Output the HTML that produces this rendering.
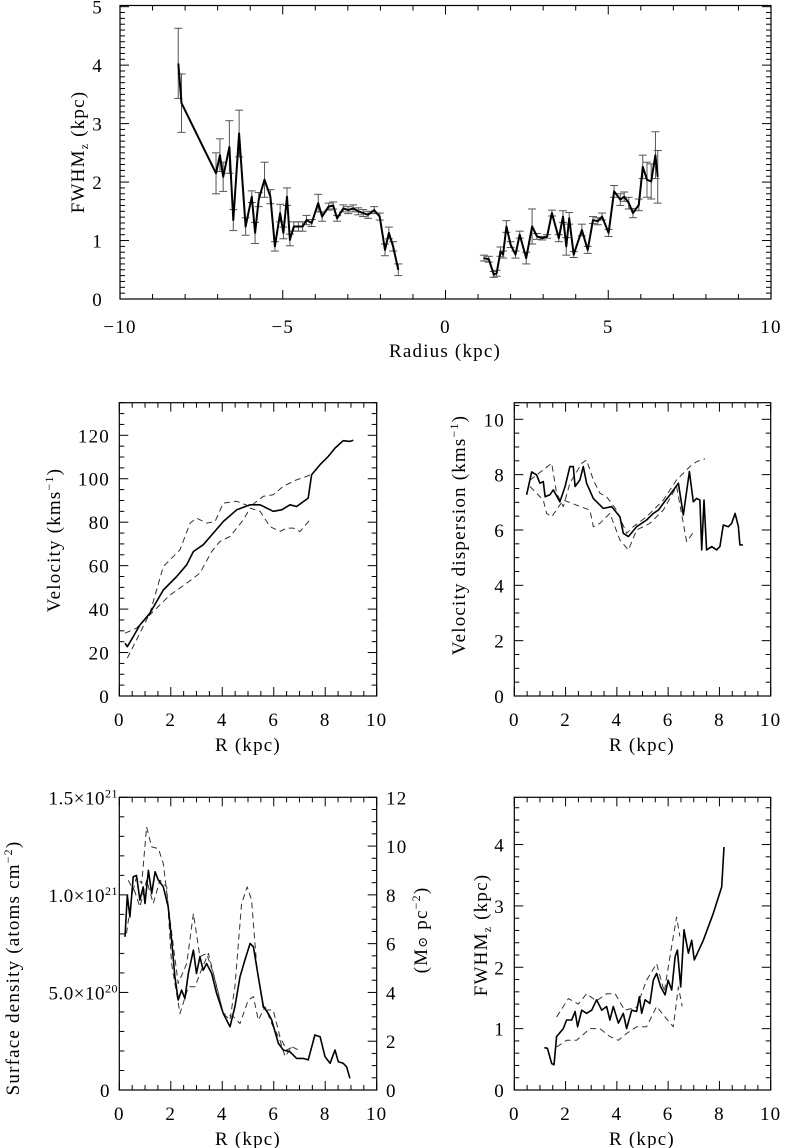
<!DOCTYPE html>
<html><head><meta charset="utf-8">
<style>
html,body{margin:0;padding:0;background:#fff;}
svg{display:block;font-family:"Liberation Serif","DejaVu Serif",serif;}
</style></head>
<body>
<svg id="fig" width="785" height="1148" viewBox="0 0 785 1148" xmlns="http://www.w3.org/2000/svg"></svg>
<script>
// ---- Panel A: FWHM vs Radius (with error bars)
const fwhmR = [-8.21,-8.11,-7.05,-6.93,-6.83,-6.64,-6.52,-6.34,-6.14,-5.95,-5.85,-5.74,-5.56,-5.38,-5.24,-5.08,-4.98,-4.87,-4.78,-4.66,-4.52,-4.39,-4.27,-4.11,-3.91,-3.79,-3.59,-3.45,-3.33,-3.14,-2.99,-2.84,-2.68,-2.53,-2.38,-2.19,-2.02,-1.86,-1.74,-1.61,-1.45];
const fwhmV = [4.03,3.35,2.15,2.46,2.09,2.6,1.35,2.83,1.24,1.75,1.13,1.7,2.04,1.75,0.9,1.47,1.13,1.75,1.01,1.24,1.24,1.24,1.35,1.3,1.64,1.41,1.58,1.6,1.38,1.55,1.52,1.55,1.5,1.47,1.44,1.52,1.41,0.84,1.13,0.9,0.5];
const fwhmE = [0.6,0.5,0.35,0.28,0.25,0.45,0.18,0.4,0.15,0.1,0.18,0.12,0.3,0.12,0.08,0.15,0.1,0.15,0.1,0.08,0.08,0.08,0.08,0.06,0.15,0.08,0.06,0.06,0.05,0.06,0.06,0.06,0.06,0.06,0.06,0.06,0.06,0.1,0.1,0.08,0.1];
const fwhmR2 = [1.18,1.33,1.48,1.57,1.69,1.77,1.87,2.0,2.15,2.28,2.48,2.66,2.81,2.97,3.12,3.27,3.48,3.61,3.71,3.8,3.94,4.19,4.37,4.53,4.68,4.81,5.01,5.18,5.37,5.49,5.63,5.76,5.94,6.06,6.19,6.32,6.45,6.52];
const fwhmV2 = [0.70,0.68,0.42,0.44,0.81,0.76,1.24,0.93,0.76,1.1,0.70,1.24,1.07,1.04,1.07,1.47,1.04,1.41,0.9,1.38,0.76,1.18,0.84,1.35,1.33,1.41,1.13,1.84,1.7,1.75,1.64,1.47,1.61,2.26,2.04,2.01,2.46,2.09];
const fwhmE2 = [0.05,0.05,0.05,0.05,0.08,0.06,0.1,0.05,0.06,0.06,0.1,0.3,0.05,0.03,0.03,0.05,0.06,0.1,0.15,0.1,0.05,0.1,0.06,0.06,0.06,0.06,0.06,0.1,0.1,0.08,0.1,0.08,0.1,0.2,0.3,0.3,0.4,0.45];

// ---- Panel B: rotation velocity
const velR = [0.22,0.31,0.54,0.8,1.19,1.71,2.23,2.62,2.88,3.26,3.65,4.04,4.56,5.08,5.47,5.98,6.31,6.63,6.89,7.34,7.47,7.8,8.12,8.38,8.7,8.96,9.09];
const velV = [24.3,22.7,27.3,32.7,38.1,48.8,55,60.4,66.5,69.6,75,80.3,85.7,88,88,85,85.7,88,87.2,91.1,101.8,106.5,110.3,114.1,117.5,117.2,117.7];
const velUpR = [0.31,0.67,1.19,1.71,2.36,2.75,3.0,3.39,3.72,4.04,4.56,5.08,5.6,5.98,6.37,6.89,7.28,7.41];
const velUpV = [17.4,25.8,38.1,59.6,67.3,79.6,81.9,79.6,80.3,88.8,89.6,87.2,91.9,92.6,96.5,99.5,101.1,101.8];
const velLoR = [0.22,0.67,1.45,1.97,2.62,3.13,3.59,3.91,4.3,4.82,5.08,5.47,5.85,6.24,6.5,6.76,7.02,7.41];
const velLoV = [28.9,31.2,40.4,46.5,51.9,56.5,66.5,71.1,73.4,81.1,86.5,85,78,75.7,77.3,77.3,75.7,81.1];

// ---- Panel C: velocity dispersion
const dispR = [0.48,0.68,0.87,1.0,1.13,1.2,1.39,1.52,1.78,1.98,2.17,2.3,2.37,2.56,2.69,2.82,3.08,3.47,3.8,4.12,4.25,4.45,4.77,5.16,5.42,5.62,5.81,6.07,6.4,6.59,6.83,6.98,7.11,7.24,7.31,7.4,7.5,7.7,7.89,8.02,8.15,8.35,8.48,8.61,8.74,8.8,8.91];
const dispV = [7.27,8.1,7.99,7.69,7.75,7.2,7.27,7.45,7.02,7.57,8.29,8.29,7.57,7.81,8.29,7.69,7.14,6.78,6.84,6.48,5.88,5.76,6.12,6.36,6.6,6.72,6.96,7.27,7.69,6.54,8.11,7.02,7.14,7.08,5.28,7.08,5.28,5.4,5.28,5.4,6.18,6.12,6.24,6.6,6.12,5.46,5.46];
const dispUpR = [0.61,1.46,1.65,1.91,2.17,2.63,2.82,3.08,3.34,3.6,3.99,4.38,4.64,5.16,5.81,6.33,6.85,7.11,7.44];
const dispUpV = [7.8,8.41,7.33,6.84,7.69,8.41,8.53,7.81,7.33,7.2,6.72,5.88,6.12,6.48,7.08,7.81,8.29,8.47,8.57];
const dispLoR = [0.61,1.13,1.26,1.46,1.91,2.95,3.08,3.34,3.73,4.12,4.45,4.77,5.29,5.81,6.33,6.72,7.05];
const dispLoV = [7.57,7.08,6.6,6.48,7.08,6.72,6.12,6.24,6.6,5.64,5.28,6.0,6.24,6.72,7.57,5.58,6.0];

// ---- Panel D: surface density (units of 1e20 atoms cm^-2)
const sdR = [0.22,0.31,0.41,0.54,0.67,0.8,0.93,1.0,1.13,1.26,1.39,1.52,1.71,1.9,2.03,2.16,2.29,2.42,2.55,2.68,2.88,3.0,3.13,3.26,3.39,3.59,3.78,4.04,4.3,4.49,4.69,4.88,5.08,5.21,5.4,5.6,5.79,5.92,6.18,6.37,6.63,6.89,7.15,7.34,7.6,7.8,7.99,8.19,8.38,8.51,8.7,8.83,8.96];
const sdV = [7.85,9.98,8.87,10.92,11.0,9.73,10.41,9.56,11.26,10.07,11.18,10.75,10.41,9.39,7.68,5.8,4.61,5.12,4.69,5.97,7.17,5.97,6.83,6.14,6.48,5.97,4.95,3.92,3.24,4.27,5.8,6.66,7.51,7.34,5.8,4.27,3.92,3.58,2.39,2.05,1.96,1.62,1.62,1.54,2.82,2.73,1.71,1.37,2.05,1.45,1.37,1.19,0.6];
const sdUpR = [0.35,0.54,0.67,0.87,1.06,1.26,1.52,1.71,1.97,2.29,2.62,2.88,3.13,3.39,3.65,4.04,4.3,4.49,4.75,4.97,5.14,5.34,5.6,5.98,6.24,6.5,6.76];
const sdUpV = [10.75,10.24,10.92,10.58,13.48,12.46,12.37,11.6,8.7,5.46,6.48,9.04,6.83,7.0,5.97,3.92,3.58,5.29,9.56,10.41,9.73,6.31,4.1,4.1,2.73,2.05,2.22];
const sdLoR = [0.28,0.54,0.8,1.06,1.32,1.58,1.84,2.03,2.36,2.68,2.94,3.13,3.46,3.72,4.04,4.43,4.69,5.01,5.21,5.4,5.66,5.92,6.24,6.44,6.7,6.96];
const sdLoV = [8.02,10.41,9.39,10.75,9.56,10.75,10.41,6.48,3.92,5.29,5.29,5.97,7.0,5.63,3.92,3.75,3.41,4.61,4.78,3.58,4.27,3.41,2.56,1.71,2.22,2.05];

// ---- Panel E: FWHM vs R (folded)
const fzR = [1.17,1.29,1.46,1.55,1.65,1.81,1.91,2.04,2.24,2.37,2.47,2.63,2.82,3.02,3.21,3.41,3.6,3.73,3.86,4.06,4.25,4.38,4.58,4.77,4.88,4.97,5.1,5.29,5.42,5.55,5.71,5.88,6.0,6.14,6.27,6.36,6.49,6.62,6.79,6.92,7.02,7.37,7.76,8.09,8.18];
const fzV = [0.69,0.68,0.43,0.41,0.87,0.95,1.0,1.14,1.14,1.28,1.03,1.3,1.25,1.3,1.47,1.3,1.36,1.14,1.36,1.09,1.25,1.0,1.3,1.28,1.52,1.25,1.47,1.41,1.79,1.9,1.68,1.55,1.79,1.63,2.17,2.28,1.68,2.61,2.23,2.44,2.12,2.44,2.88,3.31,3.96];
const fzUpR = [1.65,1.91,2.11,2.5,2.82,3.2,3.6,3.93,4.3,4.77,5.16,5.55,5.85,6.07,6.33,6.46];
const fzUpV = [1.19,1.36,1.49,1.4,1.57,1.45,1.57,1.57,1.3,1.35,1.79,2.06,1.6,2.17,2.82,2.5];
const fzLoR = [1.65,2.04,2.43,2.95,3.34,3.73,4.06,4.38,4.77,5.16,5.55,5.88,6.2,6.4,6.55];
const fzLoV = [0.7,0.81,0.81,1.0,1.0,0.87,0.81,0.92,1.03,1.03,1.36,1.19,1.03,1.68,1.36];

const FS = 19, LS = 1.2;
const svg = document.getElementById('fig');
const NS = 'http://www.w3.org/2000/svg';
function mk(tag, attrs, parent){
  const e = document.createElementNS(NS, tag);
  for (const k in attrs) e.setAttribute(k, attrs[k]);
  (parent||svg).appendChild(e);
  return e;
}
function panel(name, x0, x1, y0, y1, xmin, xmax, ymin, ymax){
  const g = mk('g', {});
  
  
  const p = {g, sx: v => x0 + (v - xmin) / (xmax - xmin) * (x1 - x0),
             sy: v => y0 - (v - ymin) / (ymax - ymin) * (y0 - y1), x0, x1, y0, y1};
  const box = mk('rect', {x:x0, y:y1, width:x1-x0, height:y0-y1, fill:'none', stroke:'#000', 'stroke-width':1.2}, g);
  
  
  return p;
}
function xTicks(p, lo, hi, major, minor, labels, labY){
  const ax = mk('g', {stroke:'#000', 'stroke-width':1}, p.g);
  
  
  for (let v = lo; v <= hi + 1e-9; v += minor){
    const isMaj = Math.abs(v/major - Math.round(v/major)) < 1e-6;
    const L = isMaj ? 9 : 5; const X = p.sx(v);
    mk('line', {x1:X, x2:X, y1:p.y0, y2:p.y0 - L}, ax);
    mk('line', {x1:X, x2:X, y1:p.y1, y2:p.y1 + L}, ax);
  }
  labels.forEach(v => {
    const t = mk('text', {x:p.sx(v), y:labY, 'text-anchor':'middle', 'font-size':FS, 'letter-spacing':LS, fill:'#000'}, p.g);
    t.textContent = v < 0 ? '\u2212' + Math.abs(v) : String(v);
    
    
  });
}
function yTicks(p, lo, hi, major, minor, labels, labX, both){
  const ax = mk('g', {stroke:'#000', 'stroke-width':1}, p.g);
  
  
  for (let v = lo; v <= hi + 1e-9; v += minor){
    const isMaj = Math.abs(v/major - Math.round(v/major)) < 1e-6;
    const L = isMaj ? 9 : 5; const Y = p.sy(v);
    mk('line', {x1:p.x0, x2:p.x0 + L, y1:Y, y2:Y}, ax);
    if (both) mk('line', {x1:p.x1, x2:p.x1 - L, y1:Y, y2:Y}, ax);
  }
  if (labels) labels.forEach(v => {
    const t = mk('text', {x:labX, y:p.sy(v) + 7, 'text-anchor':'end', 'font-size':FS, 'letter-spacing':LS, fill:'#000'}, p.g);
    t.textContent = String(v);
    
    
  });
}
function line(p, xs, ys, dashed, w, name){
  const pts = xs.map((x, i) => p.sx(x).toFixed(1) + ',' + p.sy(ys[i]).toFixed(1)).join(' ');
  const l = mk('polyline', {points:pts, fill:'none', stroke: dashed ? '#333' : '#000', 'stroke-width': w || (dashed ? 1 : 1.8), 'stroke-dasharray': dashed ? '6,4' : 'none', 'stroke-linejoin':'round'}, p.g);
  
  
}
function errbars(p, xs, ys, es){
  const g = mk('g', {stroke:'#555', 'stroke-width':1}, p.g);
  
  
  xs.forEach((x, i) => {
    const X = p.sx(x), a = p.sy(ys[i] + es[i]), b = p.sy(ys[i] - es[i]);
    mk('line', {x1:X, x2:X, y1:a, y2:b}, g);
    mk('line', {x1:X-4, x2:X+4, y1:a, y2:a}, g);
    mk('line', {x1:X-4, x2:X+4, y1:b, y2:b}, g);
  });
}
function label(txt, x, y, rot, name, size){
  const t = mk('text', {x, y, 'text-anchor':'middle', 'font-size':size||FS, 'letter-spacing':LS, fill:'#000', transform: rot ? `rotate(-90 ${x} ${y})` : ''});
  t.innerHTML = txt;
  
  
}

// Panel A
const A = panel('fwhm-radius-panel', 120, 771, 299, 5.5, -10, 10, 0, 5.02);
xTicks(A, -10, 10, 5, 1, [-10,-5,0,5,10], 333);
yTicks(A, 0, 5, 1, 0.1, [0,1,2,3,4,5], 103, true);
errbars(A, fwhmR, fwhmV, fwhmE);
errbars(A, fwhmR2, fwhmV2, fwhmE2);
line(A, fwhmR, fwhmV, false, 2, 'fwhm-line-negative');
line(A, fwhmR2, fwhmV2, false, 2, 'fwhm-line-positive');
label('Radius (kpc)', 445, 357, false, 'x-axis-title');
label('FWHM<tspan font-size="12" dy="4">z</tspan><tspan dy="-4"> (kpc)</tspan>', 84, 152, true, 'y-axis-title');

// Panel B
const B = panel('velocity-panel', 119.3, 376.7, 696, 402.7, 0, 10, 0, 135);
xTicks(B, 0, 10, 2, 0.5, [0,2,4,6,8,10], 726);
yTicks(B, 0, 135, 20, 5, [0,20,40,60,80,100,120], 110, true);
line(B, velUpR, velUpV, true, 1, 'velocity-upper-dashed');
line(B, velLoR, velLoV, true, 1, 'velocity-lower-dashed');
line(B, velR, velV, false, 1.6, 'velocity-line');
label('R (kpc)', 248, 751, false, 'x-axis-title');
label('Velocity (kms<tspan font-size="12" dy="-7">\u22121</tspan><tspan dy="7">)</tspan>', 60, 540, true, 'y-axis-title');

// Panel C
const C = panel('dispersion-panel', 514.3, 770.7, 696, 402.7, 0, 10, 0, 10.6);
xTicks(C, 0, 10, 2, 0.5, [0,2,4,6,8,10], 726);
yTicks(C, 0, 10.5, 2, 0.5, [0,2,4,6,8,10], 505, true);
line(C, dispUpR, dispUpV, true, 1, 'dispersion-upper-dashed');
line(C, dispLoR, dispLoV, true, 1, 'dispersion-lower-dashed');
line(C, dispR, dispV, false, 1.6, 'dispersion-line');
label('R (kpc)', 642, 751, false, 'x-axis-title');
label('Velocity dispersion (kms<tspan font-size="12" dy="-7">\u22121</tspan><tspan dy="7">)</tspan>', 465, 535, true, 'y-axis-title');

// Panel D
const D = panel('surface-density-panel', 119.3, 376.7, 1090, 797.3, 0, 10, 0, 15);
xTicks(D, 0, 10, 2, 0.5, [0,2,4,6,8,10], 1120);
yTicks(D, 0, 15, 5, 1, null, 0, false);
{
  const ax = mk('g', {stroke:'#000', 'stroke-width':1}, D.g);
  
  
  for (let m = 0; m <= 12 + 1e-9; m += 0.5){
    const Y = D.sy(m * 1.25); const L = (m % 2 === 0) ? 9 : 5;
    mk('line', {x1:D.x1, x2:D.x1 - L, y1:Y, y2:Y}, ax);
  }
  [0,2,4,6,8,10,12].forEach(m => {
    const t = mk('text', {x:386, y:D.sy(m*1.25)+7, 'text-anchor':'start', 'font-size':FS, 'letter-spacing':LS, fill:'#000'}, D.g);
    t.textContent = String(m);
    
    
  });
  [['0',0],['5.0\u00d710<tspan font-size="12" dy="-7">20</tspan>',5],['1.0\u00d710<tspan font-size="12" dy="-7">21</tspan>',10],['1.5\u00d710<tspan font-size="12" dy="-7">21</tspan>',15]].forEach(([s,v]) => {
    const t = mk('text', {x: v===0 ? 110 : 118, y:D.sy(v)+7, 'text-anchor':'end', 'font-size':FS, 'letter-spacing':0.5, fill:'#000'}, D.g);
    t.innerHTML = s;
    
    
  });
}
line(D, sdUpR, sdUpV, true, 1, 'density-upper-dashed');
line(D, sdLoR, sdLoV, true, 1, 'density-lower-dashed');
line(D, sdR, sdV, false, 1.6, 'density-line');
label('R (kpc)', 248, 1145, false, 'x-axis-title');
label('Surface density (atoms cm<tspan font-size="12" dy="-7">\u22122</tspan><tspan dy="7">)</tspan>', 19, 968, true, 'y-axis-title');
label('(M<tspan font-size="13">\u2299</tspan> pc<tspan font-size="12" dy="-7">\u22122</tspan><tspan dy="7">)</tspan>', 427, 930, true, 'right-y-axis-title');

// Panel E
const E = panel('fwhm-folded-panel', 514.3, 770.7, 1090, 797.3, 0, 10, 0, 4.77);
xTicks(E, 0, 10, 2, 0.5, [0,2,4,6,8,10], 1120);
yTicks(E, 0, 4.77, 1, 0.2, [0,1,2,3,4], 505, true);
line(E, fzUpR, fzUpV, true, 1, 'fwhm-upper-dashed');
line(E, fzLoR, fzLoV, true, 1, 'fwhm-lower-dashed');
line(E, fzR, fzV, false, 1.6, 'fwhm-line');
label('R (kpc)', 642, 1145, false, 'x-axis-title');
label('FWHM<tspan font-size="12" dy="4">z</tspan><tspan dy="-4"> (kpc)</tspan>', 487, 935, true, 'y-axis-title');
</script>
</body></html>
